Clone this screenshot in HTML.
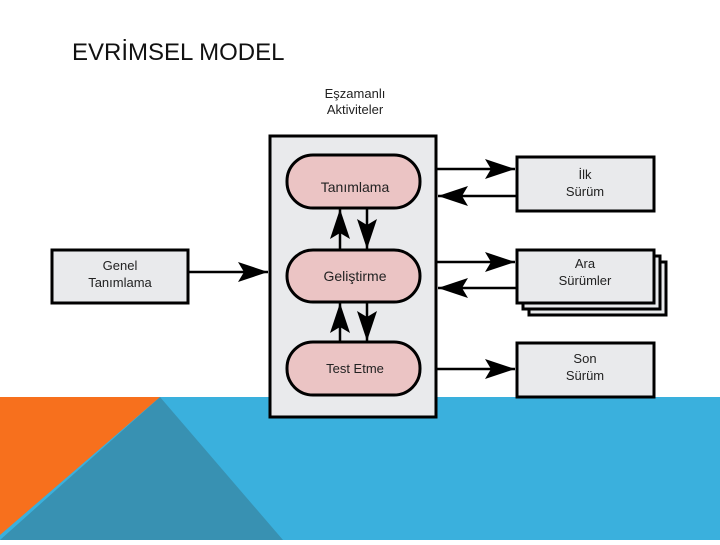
<!DOCTYPE html><html><head><meta charset="utf-8"><style>body{margin:0;width:720px;height:540px;overflow:hidden;background:#fff;font-family:"Liberation Sans",sans-serif}</style></head><body>
<svg width="720" height="540" xmlns="http://www.w3.org/2000/svg" font-family="Liberation Sans, sans-serif">
<defs><marker id="a" markerWidth="10" markerHeight="8" refX="10" refY="4" orient="auto" markerUnits="userSpaceOnUse"><path d="M0,0 L10,4 L0,8 Z" fill="#000"/></marker>
<marker id="b" viewBox="0 0 30 20" markerWidth="30" markerHeight="20" refX="30" refY="10" orient="auto" markerUnits="userSpaceOnUse"><path d="M0,0 L30,10 L0,20 L6,10Z" fill="#000"/></marker></defs>
<rect x="0" y="397" width="720" height="143" fill="#3ab0dd"/>
<polygon points="160,397 283,540 0,540" fill="#3891b2"/>
<polygon points="0,397 160,397 0,535" fill="#f7701d"/>
<text x="72" y="60" font-size="24" fill="#111">EVRİMSEL MODEL</text>
<text x="355" y="98" font-size="13" text-anchor="middle" fill="#222">Eşzamanlı</text>
<text x="355" y="114" font-size="13" text-anchor="middle" fill="#222">Aktiviteler</text>
<g stroke="#000" stroke-width="3" fill="#e9eaec">
<rect x="270" y="136" width="166" height="281"/>
<rect x="52" y="250" width="136" height="53"/>
<rect x="529" y="262" width="137" height="53"/>
<rect x="523" y="256" width="137" height="53"/>
<rect x="517" y="250" width="137" height="53"/>
<rect x="517" y="157" width="137" height="54"/>
<rect x="517" y="343" width="137" height="54"/>
<g fill="#ebc4c4"><rect x="287" y="155" width="133" height="53" rx="26"/><rect x="287" y="250" width="133" height="52" rx="26"/><rect x="287" y="342" width="133" height="53" rx="26"/></g>
<g fill="none" stroke-width="2.5">
<line x1="188" y1="272" x2="268" y2="272" marker-end="url(#b)"/>
<line x1="436" y1="169" x2="515" y2="169" marker-end="url(#b)"/>
<line x1="517" y1="196" x2="438" y2="196" marker-end="url(#b)"/>
<line x1="436" y1="262" x2="515" y2="262" marker-end="url(#b)"/>
<line x1="517" y1="288" x2="438" y2="288" marker-end="url(#b)"/>
<line x1="436" y1="369" x2="515" y2="369" marker-end="url(#b)"/>
<line x1="340" y1="250" x2="340" y2="209" marker-end="url(#b)"/>
<line x1="367" y1="208" x2="367" y2="249" marker-end="url(#b)"/>
<line x1="340" y1="342" x2="340" y2="303" marker-end="url(#b)"/>
<line x1="367" y1="302" x2="367" y2="341" marker-end="url(#b)"/>
</g></g>
<g font-size="14" text-anchor="middle" fill="#222">
<text x="355" y="192">Tanımlama</text><text x="355" y="281">Geliştirme</text><text x="355" y="373" font-size="13">Test Etme</text>
<text x="120" y="270" font-size="13">Genel</text><text x="120" y="287" font-size="13">Tanımlama</text>
<g font-size="13"><text x="585" y="179">İlk</text><text x="585" y="196">Sürüm</text>
<text x="585" y="268">Ara</text><text x="585" y="285">Sürümler</text>
<text x="585" y="363">Son</text><text x="585" y="380">Sürüm</text></g></g>
</svg></body></html>
